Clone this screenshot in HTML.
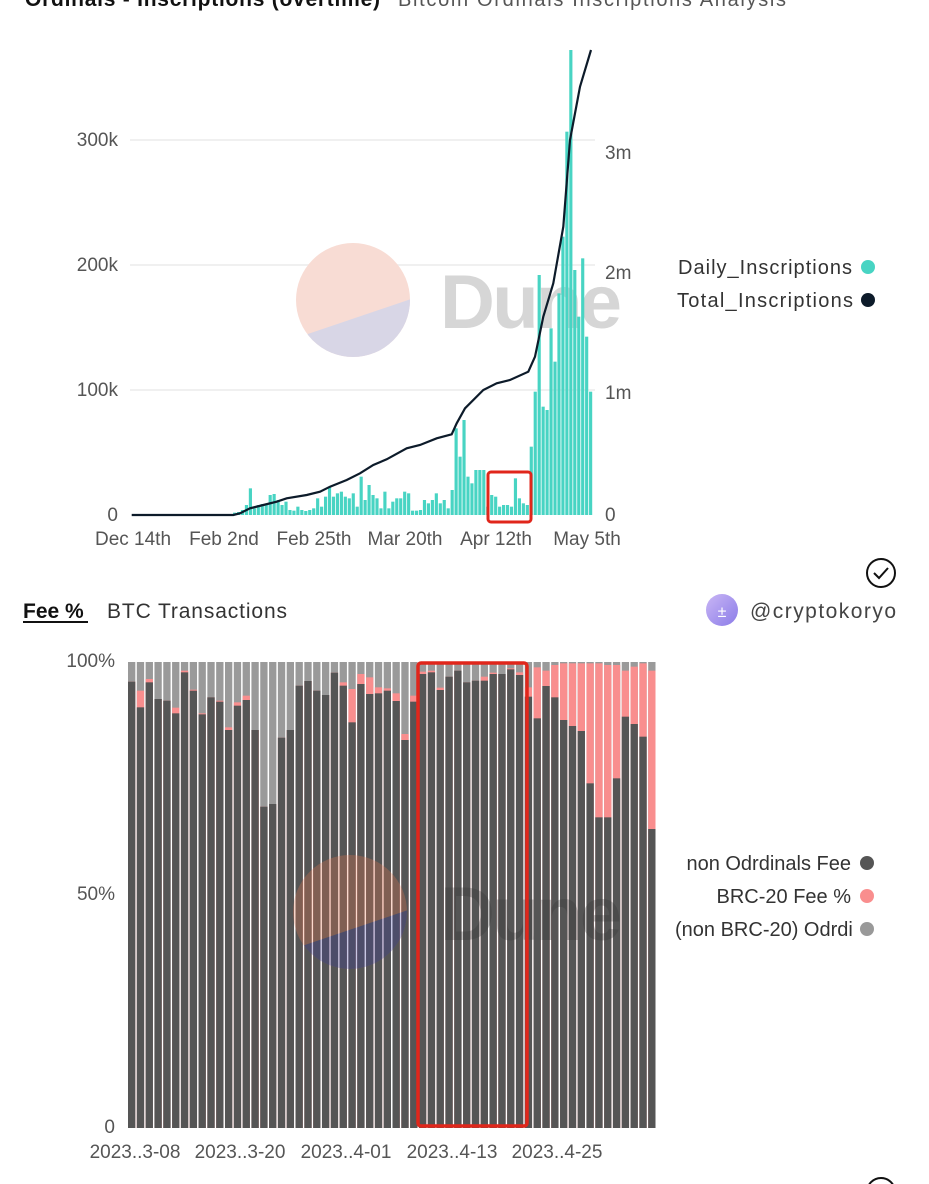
<!DOCTYPE html>
<html><head><meta charset="utf-8"><style>
body{margin:0;background:#fff;width:929px;height:1184px;overflow:hidden;font-family:"Liberation Sans",sans-serif}
svg{position:absolute;left:0;top:0}
</style></head><body>
<svg id="s" width="929" height="1184" viewBox="0 0 929 1184" xmlns="http://www.w3.org/2000/svg" font-family="Liberation Sans, sans-serif">
<text x="25" y="6" font-size="21" font-weight="bold" fill="#111" textLength="355">Ordinals - Inscriptions (overtime)</text>
<text x="398" y="6" font-size="20" fill="#555" textLength="388">Bitcoin Ordinals Inscriptions Analysis</text>
<g stroke="#ececec" stroke-width="1.5"><line x1="130" y1="140" x2="595" y2="140"/><line x1="130" y1="265" x2="595" y2="265"/><line x1="130" y1="390" x2="595" y2="390"/></g>
<g font-size="19" fill="#555" text-anchor="end"><text x="118" y="146">300k</text><text x="118" y="271">200k</text><text x="118" y="396">100k</text><text x="118" y="521">0</text></g>
<g font-size="19" fill="#555"><text x="605" y="159">3m</text><text x="605" y="279">2m</text><text x="605" y="399">1m</text><text x="605" y="521">0</text></g>
<g font-size="19" fill="#555" text-anchor="middle"><text x="133" y="545">Dec 14th</text><text x="224" y="545">Feb 2nd</text><text x="314" y="545">Feb 25th</text><text x="405" y="545">Mar 20th</text><text x="496" y="545">Apr 12th</text><text x="587" y="545">May 5th</text></g>
<g id="wm1"><clipPath id="c1"><circle cx="353" cy="300" r="57"/></clipPath>
<g clip-path="url(#c1)"><rect x="290" y="240" width="130" height="120" fill="#f8dcd4"/><polygon points="290,340 420,296 420,370 290,370" fill="#d8d6e6"/></g>
<text x="440" y="328" font-size="76" font-weight="bold" fill="#d6d6d6" textLength="182">Dune</text></g>
<g id="topbars" fill="#48d4c3"></g>
<path id="line" fill="none" stroke="#0d1b2a" stroke-width="2.2"/>
<rect x="488" y="472" width="43" height="50" rx="3" fill="none" stroke="#e0261b" stroke-width="3"/>
<g font-size="20" fill="#333"><text x="678" y="274" textLength="174">Daily_Inscriptions</text><text x="677" y="307" textLength="176">Total_Inscriptions</text></g>
<circle cx="868" cy="267" r="7" fill="#48d4c3"/><circle cx="868" cy="300" r="7" fill="#0d1b2a"/>
<circle cx="881" cy="573" r="14" fill="none" stroke="#111" stroke-width="2"/><path d="M874 573 l5 5 l9 -10" fill="none" stroke="#111" stroke-width="2"/>
<circle cx="881" cy="1192" r="14" fill="none" stroke="#111" stroke-width="2"/>
<text x="23" y="618" font-size="21" font-weight="bold" fill="#111">Fee %</text><line x1="23" y1="622" x2="88" y2="622" stroke="#111" stroke-width="2"/>
<text x="107" y="618" font-size="21" fill="#333" textLength="180">BTC Transactions</text>
<defs><linearGradient id="av" x1="0" y1="0" x2="1" y2="1"><stop offset="0" stop-color="#c9b6f5"/><stop offset="1" stop-color="#8b7ce8"/></linearGradient></defs>
<circle cx="722" cy="610" r="16" fill="url(#av)"/><text x="722" y="617" font-size="16" fill="#fff" text-anchor="middle">±</text>
<text x="750" y="618" font-size="21" fill="#444" textLength="146">@cryptokoryo</text>
<g font-size="19" fill="#555" text-anchor="end"><text x="115" y="667">100%</text><text x="115" y="900">50%</text><text x="115" y="1133">0</text></g>
<g id="botbars"></g>
<g opacity="0.28"><clipPath id="c2"><circle cx="350" cy="912" r="57"/></clipPath>
<g clip-path="url(#c2)"><rect x="290" y="850" width="130" height="130" fill="#f07a50"/><polygon points="290,950 420,906 420,980 290,980" fill="#3a3aa0"/></g>
<text x="440" y="940" font-size="76" font-weight="bold" fill="#333" textLength="182">Dune</text></g>
<rect x="418" y="663" width="109" height="463" rx="3" fill="none" stroke="#e0261b" stroke-width="3.5"/>
<g font-size="19" fill="#555" text-anchor="middle"><text x="135" y="1158">2023..3-08</text><text x="240" y="1158">2023..3-20</text><text x="346" y="1158">2023..4-01</text><text x="452" y="1158">2023..4-13</text><text x="557" y="1158">2023..4-25</text></g>
<g font-size="20" fill="#333" text-anchor="end"><text x="851" y="870">non Odrdinals Fee</text><text x="851" y="903">BRC-20 Fee %</text></g>
<svg x="670" y="910" width="182" height="30"><text x="5" y="26" font-size="20" fill="#333">(non BRC-20) Odrdinals</text></svg>
<circle cx="867" cy="863" r="7" fill="#555"/><circle cx="867" cy="896" r="7" fill="#f98e8e"/><circle cx="867" cy="929" r="7" fill="#999"/>
</svg>
<script>
var NS="http://www.w3.org/2000/svg";
function el(t,a,p){var e=document.createElementNS(NS,t);for(var k in a)e.setAttribute(k,a[k]);p.appendChild(e);return e;}
var tb=document.getElementById("topbars");
var tz=[1418,1416,1410,1395,1345,1405,1395,1392,1392,1365,1362,1380,1395,1385,1410,1412,1400,1410,1413,1410,1405,1375,1400,1370,1340,1370,1360,1355,1370,1375,1360,1400,1310,1380,1335,1365,1375,1405,1355,1405,1385,1375,1375,1355,1360,1412,1412,1410,1380,1390,1380,1360,1390,1380,1405,1350,1165,1250,1140,1310,1330,1290,1290,1290,1400,1365,1370,1400,1395,1395,1400,1315,1375,1390,1395,1220,1055,705,1100,1110,865,965,760,590,275,30,690,830,655,890,1055];
var n=tz.length,x0=233,x1=593,p=(x1-x0)/n;
for(var i=0;i<n;i++){var y=40+tz[i]/3;el("rect",{x:x0+i*p,y:y,width:p-0.8,height:515-y},tb);}
var lp=[[35,1425],[340,1425],[360,1420],[390,1405],[430,1395],[470,1385],[500,1375],[560,1365],[600,1355],[630,1340],[680,1320],[720,1300],[760,1275],[800,1258],[860,1225],[900,1215],[950,1195],[995,1183],[1010,1150],[1035,1105],[1090,1050],[1130,1030],[1170,1020],[1225,995],[1245,950],[1270,830],[1300,730],[1330,560],[1350,300],[1380,140],[1413,30]];
document.getElementById("line").setAttribute("d",lp.map(function(q,i){return (i?"L":"M")+(120+q[0]/3).toFixed(1)+" "+(40+q[1]/3).toFixed(1);}).join(" "));
var bb=document.getElementById("botbars");
var B=[[95,95],[172,122],[97,87],[147,147],[152,152],[190,173],[67,62],[122,119],[193,190],[142,142],[155,152],[240,232],[167,157],[150,137],[240,240],[470,470],[462,462],[263,263],[240,240],[107,107],[93,93],[122,122],[135,135],[68,68],[107,97],[217,117],[102,72],[132,82],[130,112],[122,115],[153,130],[270,252],[155,137],[72,65],[67,62],[120,113],[80,80],[62,62],[97,97],[92,92],[92,80],[72,68],[72,72],[58,55],[75,67],[140,112],[205,52],[108,62],[142,45],[210,40],[228,40],[243,40],[400,40],[502,40],[502,45],[385,45],[200,62],[222,50],[260,40],[537,62]];
var bx0=128,bx1=657,bp=(bx1-bx0)/B.length;
function Y(z){return 650+z/3;}
for(var i=0;i<B.length;i++){var x=bx0+i*bp,w=bp-1.5;
el("rect",{x:x,y:662,width:w,height:466,fill:"#9a9a9a"},bb);
el("rect",{x:x,y:Y(B[i][1]),width:w,height:1128-Y(B[i][1]),fill:"#f98e8e"},bb);
el("rect",{x:x,y:Y(B[i][0]),width:w,height:1128-Y(B[i][0]),fill:"#555555"},bb);}
</script>
</body></html>
